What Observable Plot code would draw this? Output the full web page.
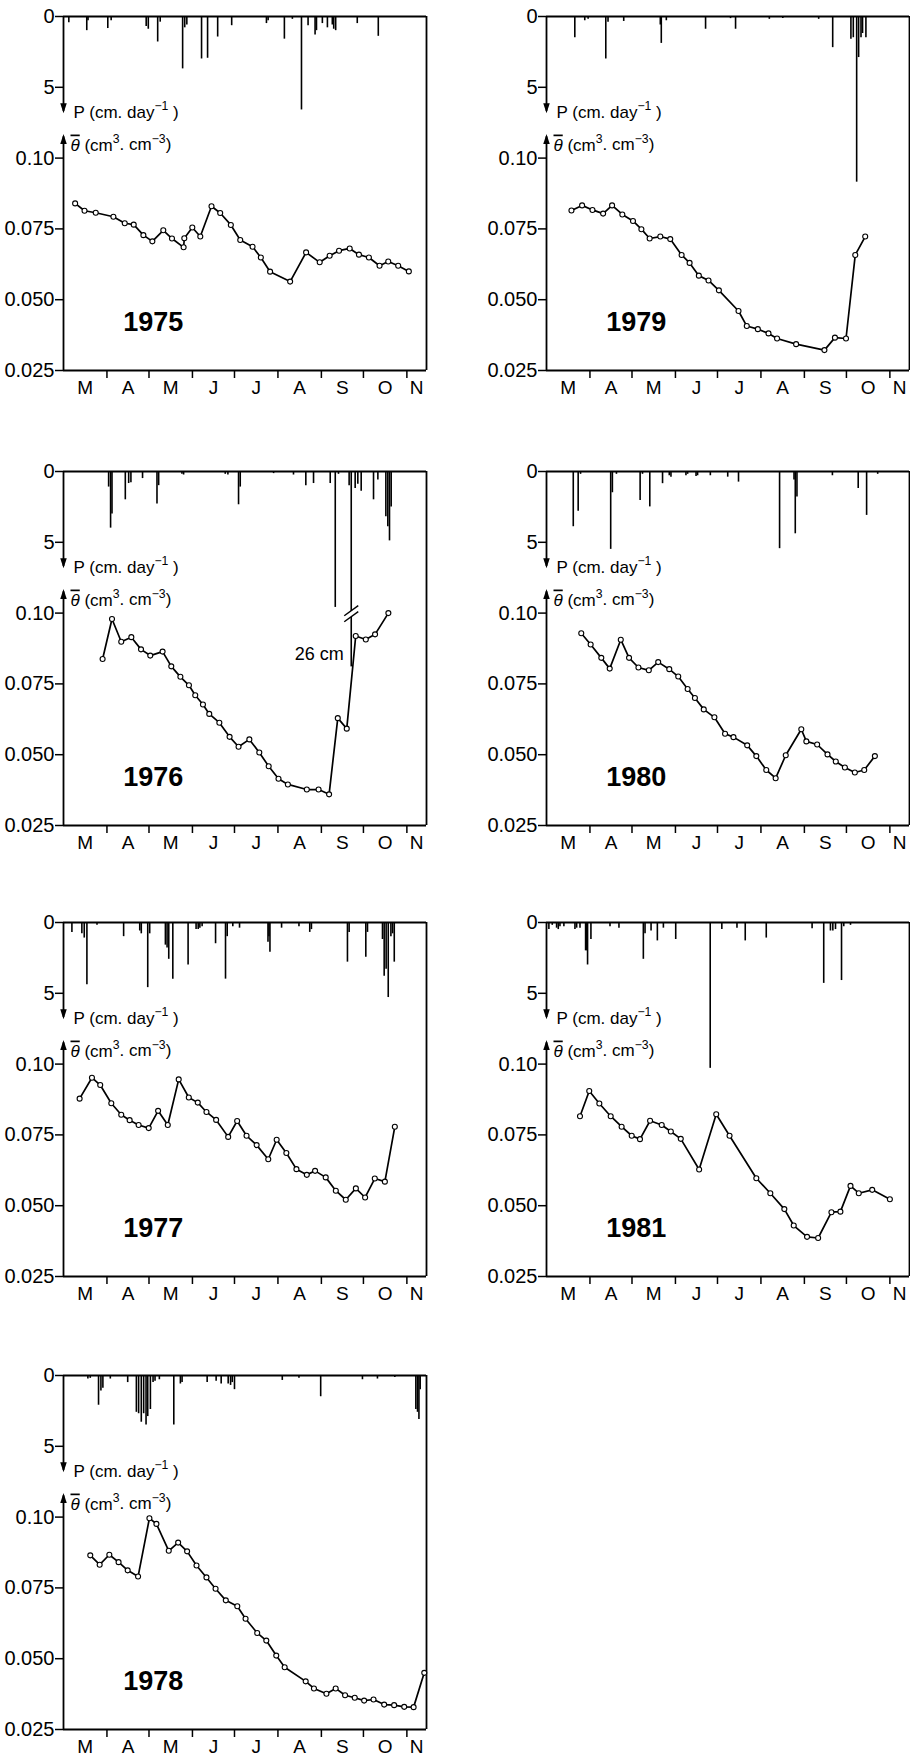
<!DOCTYPE html>
<html><head><meta charset="utf-8">
<script src="https://cdn.jsdelivr.net/npm/d3@7"></script>
<script src="https://cdn.jsdelivr.net/npm/@observablehq/plot@0.6"></script>
<style>
body{margin:0;background:#fff;}
#wrap{position:relative;width:910px;height:1756px;overflow:hidden;font-family:"Liberation Sans",Arial,sans-serif;}
.panel{position:absolute;width:455px;height:453px;}
.panel svg{overflow:visible;}
</style></head><body><div id="wrap"></div>
<script>
// ---- axes / categories ----
const monthStarts = [0, 31, 61, 92, 122, 153, 184, 214, 245]; // days since 1 March
const monthLetters = ["M", "A", "M", "J", "J", "A", "S", "O", "N"];
const seasonEnd = 259;
const thetaTicks = [0.025, 0.05, 0.075, 0.10];
const thetaTickLabels = ["0.025", "0.050", "0.075", "0.10"];
const rainTicks = [0, 5];
const rainTickLabels = ["0", "5"];
const years = [1975, 1979, 1976, 1980, 1977, 1981, 1978];

// ---- mean soil water content θ (cm3/cm3): [day since 1 March, value] ----
const theta1975 = [[8.3,0.084],[15.0,0.0814],[23.0,0.0807],[35.6,0.0793],[43.7,0.077],[50.1,0.0765],[57.0,0.0728],[63.4,0.0706],[71.2,0.0745],[77.4,0.0716],[85.7,0.0685],[86.2,0.0717],[91.9,0.0755],[97.6,0.0723],[105.6,0.083],[111.8,0.0806],[119.4,0.0764],[126.1,0.0711],[134.9,0.0687],[140.8,0.0649],[147.4,0.0599],[161.7,0.0564],[173.1,0.0667],[182.8,0.0632],[189.9,0.0655],[196.6,0.0673],[204.2,0.0681],[210.8,0.0659],[217.9,0.0649],[225.5,0.062],[231.7,0.0635],[238.8,0.062],[246.4,0.06]];
const theta1979 = [[17.8,0.0815],[25.4,0.0833],[32.8,0.0817],[40.4,0.0804],[46.8,0.0833],[54.1,0.0801],[61.7,0.0778],[67.7,0.0749],[73.6,0.0716],[81.2,0.0723],[88.3,0.0714],[96.4,0.0658],[102.1,0.063],[108.7,0.0585],[115.6,0.0568],[123.0,0.0533],[137.0,0.046],[142.9,0.0407],[150.8,0.0396],[158.4,0.0381],[164.5,0.0363],[178.1,0.0343],[198.3,0.0322],[205.8,0.0366],[213.7,0.0363],[220.3,0.0658],[227.4,0.0723]];
const theta1976 = [[27.9,0.0838],[34.6,0.0979],[41.2,0.0899],[48.4,0.0915],[55.3,0.0872],[61.9,0.085],[70.7,0.0864],[76.9,0.0812],[83.4,0.0775],[89.5,0.0745],[94.0,0.071],[99.5,0.0677],[104.0,0.0644],[111.2,0.0613],[118.5,0.0563],[124.9,0.0528],[132.6,0.0554],[139.7,0.0508],[146.4,0.0459],[153.4,0.0415],[160.1,0.0395],[173.6,0.0377],[182.0,0.0377],[189.5,0.036],[195.7,0.0629],[202.1,0.0592],[208.5,0.0919],[215.7,0.0907],[222.3,0.0925],[231.8,0.1]];
const theta1980 = [[24.8,0.0929],[31.5,0.0889],[39.1,0.0842],[45.1,0.0804],[53.0,0.0906],[58.9,0.0842],[65.6,0.0808],[73.0,0.0798],[79.7,0.0827],[87.6,0.0802],[94.0,0.0776],[100.7,0.0732],[105.9,0.07],[112.2,0.066],[119.8,0.0632],[127.4,0.0574],[133.4,0.0562],[143.2,0.0533],[149.7,0.0495],[156.8,0.0446],[163.5,0.0417],[170.7,0.0498],[181.8,0.059],[185.4,0.0547],[193.1,0.0536],[200.5,0.0501],[206.4,0.0476],[212.9,0.0455],[220.0,0.0437],[226.7,0.0446],[234.3,0.0495]];
const theta1977 = [[11.5,0.0878],[20.3,0.0952],[26.2,0.0926],[34.1,0.0862],[41.2,0.0821],[47.2,0.0802],[53.6,0.0785],[60.8,0.0774],[67.5,0.0835],[74.4,0.0785],[82.2,0.0946],[89.4,0.0882],[95.8,0.0864],[102.0,0.0831],[108.9,0.0803],[117.5,0.0743],[123.9,0.0799],[130.6,0.0747],[137.8,0.0714],[146.1,0.0664],[152.1,0.0733],[159.0,0.0686],[166.2,0.0629],[173.6,0.0609],[179.5,0.0623],[187.1,0.06],[194.3,0.0553],[201.4,0.0521],[208.6,0.0561],[215.2,0.0529],[222.1,0.0596],[229.3,0.0585],[236.4,0.0779]];
const theta1981 = [[23.9,0.0816],[30.5,0.0905],[37.7,0.0861],[45.8,0.0816],[53.6,0.0779],[60.8,0.0747],[66.7,0.0735],[73.9,0.08],[82.2,0.0785],[88.7,0.0762],[95.8,0.0736],[108.9,0.0628],[121.1,0.0823],[130.6,0.0747],[149.7,0.0597],[159.7,0.0544],[169.7,0.0488],[176.4,0.043],[185.9,0.039],[193.8,0.0386],[203.3,0.0477],[209.7,0.0479],[216.9,0.057],[222.8,0.0544],[232.4,0.0556],[245.0,0.0523]];
const theta1978 = [[19.1,0.0865],[25.8,0.0832],[32.7,0.0867],[39.3,0.0841],[45.8,0.0812],[53.2,0.079],[61.3,0.0996],[66.3,0.0976],[75.1,0.0881],[81.8,0.091],[88.2,0.0879],[94.9,0.0829],[102.0,0.0787],[108.5,0.0747],[115.8,0.0706],[124.0,0.0685],[129.9,0.0641],[138.2,0.0591],[144.7,0.0564],[151.8,0.0511],[157.8,0.047],[172.8,0.042],[178.7,0.0395],[187.6,0.0376],[194.2,0.0395],[200.9,0.0371],[207.8,0.0362],[214.5,0.0352],[221.2,0.0356],[228.8,0.0338],[235.9,0.0336],[243.1,0.033],[249.8,0.0329],[257.4,0.045]];

// ---- daily precipitation P (cm/day): [day since 1 March, value] ----
const rain1975 = [[3.8,0.45],[16.6,1.0],[17.5,0.3],[31.6,0.85],[34,0.3],[59,0.7],[60.5,0.9],[67.2,1.8],[69,0.4],[85,3.7],[86.5,0.8],[88,0.6],[98.5,3.0],[102.8,2.95],[110,1.45],[120,0.65],[144.8,0.5],[146,0.3],[157.6,1.6],[163.3,0.2],[169.8,6.6],[174.5,0.65],[179.5,1.3],[180.5,1.0],[184.7,0.5],[188.3,0.8],[191.8,0.6],[192.8,0.9],[194.2,1.0],[209.6,0.5],[224.6,1.4]];
const rain1979 = [[20.2,1.5],[27.3,0.3],[29.7,0.2],[42.3,3.0],[43.9,0.4],[55.1,0.35],[81.2,0.6],[81.9,1.9],[85.5,0.3],[113.5,0.9],[131.3,0.15],[134.9,0.9],[159,0.2],[168.6,0.15],[194.2,0.2],[204.2,2.2],[217.2,1.6],[218.9,1.5],[221.3,11.7],[222.7,2.9],[224.4,1.5],[225.5,1.2],[227.9,1.5]];
const rain1976 = [[32.2,1.1],[33.6,4.0],[34.6,3.0],[44.1,2.0],[46.5,0.85],[48.1,0.8],[56.4,0.5],[66.7,2.3],[67.9,1.0],[84.5,0.2],[85.7,0.25],[115.4,0.2],[117.3,0.25],[124.9,2.35],[126.1,1.1],[149.9,0.15],[164.1,0.25],[172.9,1.0],[178.4,0.85],[190.3,0.85],[193.9,9.6],[196.2,0.2],[203.8,1.0],[205.3,26],[208.1,1.2],[210,0.9],[212.4,1.4],[221.2,2.0],[224.3,0.6],[230,3.2],[231.4,3.9],[232.6,4.9],[233.8,2.5]];
const rain1980 = [[19.1,3.9],[22.6,2.8],[24.3,0.2],[45.8,5.5],[47.0,1.5],[49.9,0.2],[66.8,2.05],[68.5,0.2],[73.7,2.5],[82.8,0.86],[87.6,0.3],[88.8,0.4],[99.5,0.3],[100.7,0.2],[106.7,0.35],[107.8,0.3],[116.9,0.3],[129.3,0.4],[137.0,0.75],[166.3,5.45],[176.6,0.6],[177.5,4.4],[178.7,1.8],[204,0.3],[222.4,1.2],[228.4,3.1],[236.3,0.2]];
const rain1977 = [[6.0,0.7],[13.1,0.8],[14.8,1.1],[16.7,4.4],[23.9,0.2],[42.9,1.0],[54.4,0.6],[55.5,0.8],[60.1,4.6],[61.5,0.8],[72.7,1.6],[73.9,1.8],[75.1,2.6],[78.0,4.0],[88.9,3.0],[94.6,0.5],[96.1,0.5],[97.3,0.4],[98.9,0.3],[108.5,1.5],[115.6,4.0],[116.8,1.0],[120.8,0.3],[125.6,0.4],[145.9,1.4],[146.6,1.0],[147.3,2.1],[155.6,0.4],[168.0,0.3],[175.7,0.7],[176.9,0.5],[202.6,2.8],[203.8,0.7],[215.7,2.45],[216.9,0.7],[227.6,1.2],[228.8,3.8],[230.2,3.3],[231.7,5.3],[233.6,1.0],[234.8,0.8],[236.0,2.8]];
const rain1981 = [[1.7,0.5],[4.1,0.2],[7.2,0.4],[8.4,0.5],[9.6,0.3],[12.4,0.3],[20.3,0.5],[21.5,0.4],[23.9,0.4],[27.9,2.0],[28.6,2.0],[29.3,3.0],[31.7,1.2],[45.3,0.3],[51.7,0.4],[69.1,2.6],[70.3,0.8],[74.6,0.6],[79.1,1.3],[83.4,0.4],[92.2,1.2],[116.8,10.3],[125.1,0.5],[135.9,0.4],[141.8,1.3],[156.8,1.1],[189.5,0.45],[197.8,4.3],[202.6,0.6],[204.3,0.6],[206.2,0.5],[210.5,4.1],[212.1,0.3],[216.9,0.2]];
const rain1978 = [[17.4,0.25],[19.1,0.2],[25.0,2.1],[26.7,1.1],[28.1,0.9],[33.4,0.25],[45.8,0.5],[52.0,2.6],[53.6,2.7],[55.5,3.3],[57.2,2.7],[58.9,3.5],[60.1,2.9],[62.0,2.4],[63.9,0.5],[65.3,0.4],[68.4,0.3],[78.7,3.5],[83.4,0.6],[84.6,0.5],[102.5,0.5],[108.9,0.4],[112.5,0.6],[117.5,0.6],[119.2,0.7],[120.4,0.5],[122.0,1.0],[156.1,0.35],[168.0,0.2],[183.5,1.5],[213.3,0.3],[224.0,0.25],[236.4,0.15],[251.4,2.4],[252.6,2.6],[253.6,3.1],[254.5,1.0]];

// ---- layout of the panels (column, row) ----
const panelCols = [0, 1, 0, 1, 0, 1, 0];
const panelRows = [0, 0, 1, 1, 2, 2, 3];
const frameTops = [16, 471, 922, 1375];
const thetaSeries = [theta1975, theta1979, theta1976, theta1980, theta1977, theta1981, theta1978];
const rainSeries = [rain1975, rain1979, rain1976, rain1980, rain1977, rain1981, rain1978];

// shared vertical scale: θ from 0.025 (bottom) up to 0.15; P hangs from the top, 5 cm = 0.025
const thetaMin = 0.025, thetaTop = 0.15, cmPerTheta = 200;
const rainDrawCap = 13.8; // the 26 cm bar of 1976 is drawn broken

const downTri = {draw(ctx, size){ const r = Math.sqrt(size/Math.PI); ctx.moveTo(0,0); ctx.lineTo(-0.65*r,-2*r); ctx.lineTo(0.65*r,-2*r); ctx.closePath(); }};
const upTri = {draw(ctx, size){ const r = Math.sqrt(size/Math.PI); ctx.moveTo(0,0); ctx.lineTo(-0.65*r,2*r); ctx.lineTo(0.65*r,2*r); ctx.closePath(); }};

const monthMids = monthStarts.map((s, i) => (s + (i + 1 < monthStarts.length ? monthStarts[i + 1] : seasonEnd)) / 2);
const yTickValues = [...thetaTicks, ...rainTicks.map(p => thetaTop - p / cmPerTheta)];
const yTickText = [...thetaTickLabels, ...rainTickLabels];

// {x} -> superscript, [x] -> overlined
function richText(svg){
  d3.select(svg).selectAll("text").each(function(){
    const s = this.textContent;
    if (!/[\{\[]/.test(s)) return;
    const el = d3.select(this); el.text(null);
    let raised = false;
    for (const part of s.split(/(\{[^}]*\}|\[[^\]]*\])/)) {
      if (!part) continue;
      let t;
      if (part.startsWith("{")) {
        t = el.append("tspan").attr("dy","-0.6em").attr("font-size","72%").text(part.slice(1,-1));
        raised = true; continue;
      }
      if (part.startsWith("[")) {
        t = el.append("tspan").style("text-decoration","overline").style("font-style","italic").text(part.slice(1,-1));
      } else {
        t = el.append("tspan").text(part);
      }
      if (raised) { t.attr("dy","0.43em"); raised = false; }
    }
  });
}

const wrap = document.getElementById("wrap");
years.forEach((year, k) => {
  const col = panelCols[k], row = panelRows[k];
  const theta = thetaSeries[k], rain = rainSeries[k];
  const rainY = p => thetaTop - Math.min(p, rainDrawCap) / cmPerTheta;
  const marks = [
    Plot.ruleX(rain, {x: d => d[0], y1: thetaTop, y2: d => rainY(d[1]), stroke: "#000", strokeWidth: 1.6}),
    Plot.ruleY([thetaTop, thetaMin], {stroke: "#000", strokeWidth: 1.8}),
    Plot.ruleX([seasonEnd], {y1: thetaMin, y2: thetaTop, stroke: "#000", strokeWidth: 1.8}),
    Plot.ruleX([0], {y1: thetaTop, y2: 0.1165, stroke: "#000", strokeWidth: 1.8}),
    Plot.ruleX([0], {y1: thetaMin, y2: 0.1075, stroke: "#000", strokeWidth: 1.8}),
    Plot.dot([[0, 0.1158]], {x: d => d[0], y: d => d[1], symbol: downTri, r: 5, fill: "#000", stroke: "none"}),
    Plot.dot([[0, 0.1085]], {x: d => d[0], y: d => d[1], symbol: upTri, r: 5, fill: "#000", stroke: "none"}),
    Plot.axisY({ticks: yTickValues, tickFormat: v => yTickText[yTickValues.indexOf(v)], tickSize: 8, tickPadding: 1, fontSize: 20, strokeWidth: 1.5}),
    Plot.axisX({ticks: monthStarts.slice(1), tickSize: 8, tickFormat: () => "", strokeWidth: 1.5}),
    Plot.axisX({ticks: monthMids, tickSize: 0, tickPadding: 10, tickFormat: v => monthLetters[monthMids.indexOf(v)], fontSize: 19}),
    Plot.line(theta, {x: d => d[0], y: d => d[1], stroke: "#000", strokeWidth: 1.7}),
    Plot.dot(theta, {x: d => d[0], y: d => d[1], r: 2.5, fill: "white", stroke: "#000", strokeWidth: 1.1}),
    Plot.text([{x: 0, y: 0.1162, t: "P (cm. day{−1} )"}], {x: "x", y: "y", text: "t", dx: 10, textAnchor: "start", fontSize: 17}),
    Plot.text([{x: 0, y: 0.1046, t: "[θ] (cm{3}. cm{−3})"}], {x: "x", y: "y", text: "t", dx: 7, textAnchor: "start", fontSize: 17}),
    Plot.text([{x: 64, y: 0.039, t: String(year)}], {x: "x", y: "y", text: "t", fontSize: 27, fontWeight: "bold", lineAnchor: "bottom"})
  ];
  if (year === 1976) {
    const br = [{x: 205.3, y: 0.0998}];
    marks.push(
      Plot.link(br, {x1: d => d.x - 5, y1: d => d.y - 0.0018, x2: d => d.x + 5, y2: d => d.y + 0.0018, stroke: "white", strokeWidth: 5}),
      Plot.link(br, {x1: d => d.x - 5, y1: d => d.y - 0.0018, x2: d => d.x + 5, y2: d => d.y + 0.0018, stroke: "#000", strokeWidth: 1.4, dy: -3}),
      Plot.link(br, {x1: d => d.x - 5, y1: d => d.y - 0.0018, x2: d => d.x + 5, y2: d => d.y + 0.0018, stroke: "#000", strokeWidth: 1.4, dy: 3}),
      Plot.text([{x: 200, y: 0.0833, t: "26 cm"}], {x: "x", y: "y", text: "t", textAnchor: "end", fontSize: 18, lineAnchor: "bottom"})
    );
  }
  const ml = col ? 91 : 63, mr = col ? 1 : 29;
  const svg = Plot.plot({
    width: 455, height: 453,
    marginLeft: ml, marginRight: mr, marginTop: 16, marginBottom: 83,
    style: {fontFamily: '"Liberation Sans", Arial, sans-serif', color: "#000", background: "transparent", overflow: "visible"},
    x: {domain: [0, seasonEnd], label: null},
    y: {domain: [thetaMin, thetaTop], label: null},
    marks
  });
  richText(svg);
  const div = document.createElement("div");
  div.className = "panel";
  div.style.left = (col * 455) + "px";
  div.style.top = (frameTops[row] - 16) + "px";
  div.appendChild(svg);
  wrap.appendChild(div);
});
</script></body></html>
